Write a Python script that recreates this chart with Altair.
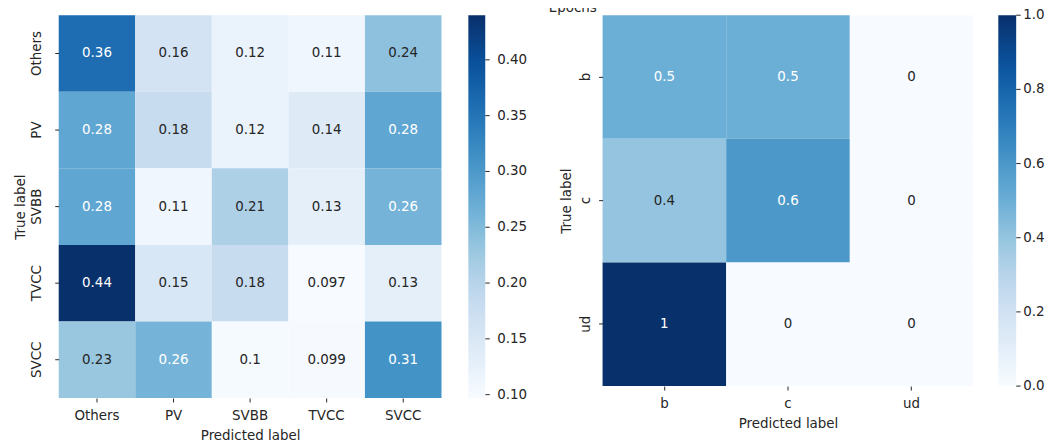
import altair as alt
import pandas as pd

# ---------------- data ----------------
left_labels = ["Others", "PV", "SVBB", "TVCC", "SVCC"]
left_values = [
    [0.36, 0.16, 0.12, 0.11, 0.24],
    [0.28, 0.18, 0.12, 0.14, 0.28],
    [0.28, 0.11, 0.21, 0.13, 0.26],
    [0.44, 0.15, 0.18, 0.097, 0.13],
    [0.23, 0.26, 0.10, 0.099, 0.31],
]
left_range = [0.097, 0.44]
left_ticks = [0.10, 0.15, 0.20, 0.25, 0.30, 0.35, 0.40]

right_labels = ["b", "c", "ud"]
right_values = [
    [0.5, 0.5, 0.0],
    [0.4, 0.6, 0.0],
    [1.0, 0.0, 0.0],
]
right_range = [0.0, 1.0]
right_ticks = [0.0, 0.2, 0.4, 0.6, 0.8, 1.0]

right_title = ["Epochs"]
x_title = "Predicted label"
y_title = "True label"

BLUES = ["#f7fbff", "#deebf7", "#c6dbef", "#9ecae1", "#6baed6",
         "#4292c6", "#2171b5", "#08519c", "#08306b"]
FONT = "DejaVu Sans"
INK = "#262626"
FS = 13.5


def heatmap(labels, values, vrange, ticks, fmt, size, cut,
            ylab_pad, ytitle_x, bar_thick, bar_offset, lab_offset, title=None):
    df = pd.DataFrame([
        {"true": t, "pred": p, "v": values[i][j]}
        for i, t in enumerate(labels) for j, p in enumerate(labels)
    ])
    lo, hi = vrange
    dom = [lo + (hi - lo) * k / 8 for k in range(9)]
    x = alt.X("pred:N", sort=labels,
              scale=alt.Scale(paddingInner=0, paddingOuter=0),
              axis=alt.Axis(title=x_title, labelAngle=0, tickSize=4,
                            labelPadding=18, labelBaseline="alphabetic",
                            titleY=42, titleBaseline="alphabetic"))
    y = alt.Y("true:N", sort=labels,
              scale=alt.Scale(paddingInner=0, paddingOuter=0),
              axis=alt.Axis(title=y_title, labelAngle=270, labelAlign="center",
                            labelBaseline="alphabetic", labelPadding=ylab_pad,
                            tickSize=4, titleAngle=270, titleX=ytitle_x,
                            titleY=size / 2, titleAlign="center",
                            titleBaseline="alphabetic"))
    base = alt.Chart(df)
    rect = base.mark_rect(strokeWidth=0).encode(
        x=x, y=y,
        color=alt.Color("v:Q", scale=alt.Scale(domain=dom, range=BLUES),
                        legend=alt.Legend(title=None, values=ticks, labelExpr="''",
                                          labelOverlap=False,
                                          orient="right", direction="vertical",
                                          gradientLength=size,
                                          gradientThickness=bar_thick,
                                          offset=bar_offset, padding=0,
                                          gradientStrokeWidth=0)),
    )
    text = base.mark_text(font=FONT, fontSize=FS, baseline="middle").encode(
        x=x, y=y,
        text=alt.Text("v:Q", format=".2~g"),
        color=alt.condition(f"datum.v >= {cut}", alt.value("#ffffff"), alt.value(INK)),
    )
    inner = [rect, text]
    if title is not None:
        ttl = alt.Chart(pd.DataFrame({"t": title})).mark_text(
            font=FONT, fontSize=FS, color=INK, align="center",
            baseline="alphabetic").encode(
            x=alt.value(-30), y=alt.value(-3), text="t:N")
        inner.append(ttl)
    # colorbar ticks and tick labels, placed through a value scale matching the gradient
    bar_right = size + bar_offset + bar_thick
    tick_base = alt.Chart(pd.DataFrame({"tick": ticks}))
    ty = alt.Y("tick:Q", scale=alt.Scale(domain=vrange, zero=False, nice=False),
               axis=None)
    tick_rule = tick_base.mark_rule(color=INK, strokeWidth=1).encode(
        y=ty, x=alt.value(bar_right), x2=alt.value(bar_right + 4.5))
    tick_text = tick_base.mark_text(font=FONT, fontSize=FS, color=INK,
                                    align="left", baseline="middle").encode(
        y=ty, x=alt.value(bar_right + lab_offset),
        text=alt.Text("tick:Q", format=fmt))
    return (alt.layer(alt.layer(*inner), alt.layer(tick_rule, tick_text))
            .resolve_scale(y="independent")
            .properties(width=size, height=size))


left = heatmap(left_labels, left_values, left_range, left_ticks, ".2f", 385, 0.25,
               ylab_pad=14, ytitle_x=-34, bar_thick=17, bar_offset=27, lab_offset=12)
right = heatmap(right_labels, right_values, right_range, right_ticks, ".1f", 373, 0.45,
                ylab_pad=9, ytitle_x=-32, bar_thick=18, bar_offset=25, lab_offset=7,
                title=right_title)

chart = (
    alt.hconcat(left, right, spacing=162, bounds="flush")
    .resolve_scale(color="independent")
    .properties(
        autosize=alt.AutoSizeParams(type="none"),
        padding={"left": 51, "top": 6, "right": 995, "bottom": 429},
        background="white",
    )
    .configure_view(stroke=None)
    .configure_axis(domain=False, grid=False, tickColor=INK, tickWidth=1,
                    labelFont=FONT, labelFontSize=FS, labelColor=INK,
                    titleFont=FONT, titleFontSize=FS, titleColor=INK,
                    titleFontWeight="normal")
)

chart.save("out.html", embed_options={"renderer": "svg", "actions": False})
